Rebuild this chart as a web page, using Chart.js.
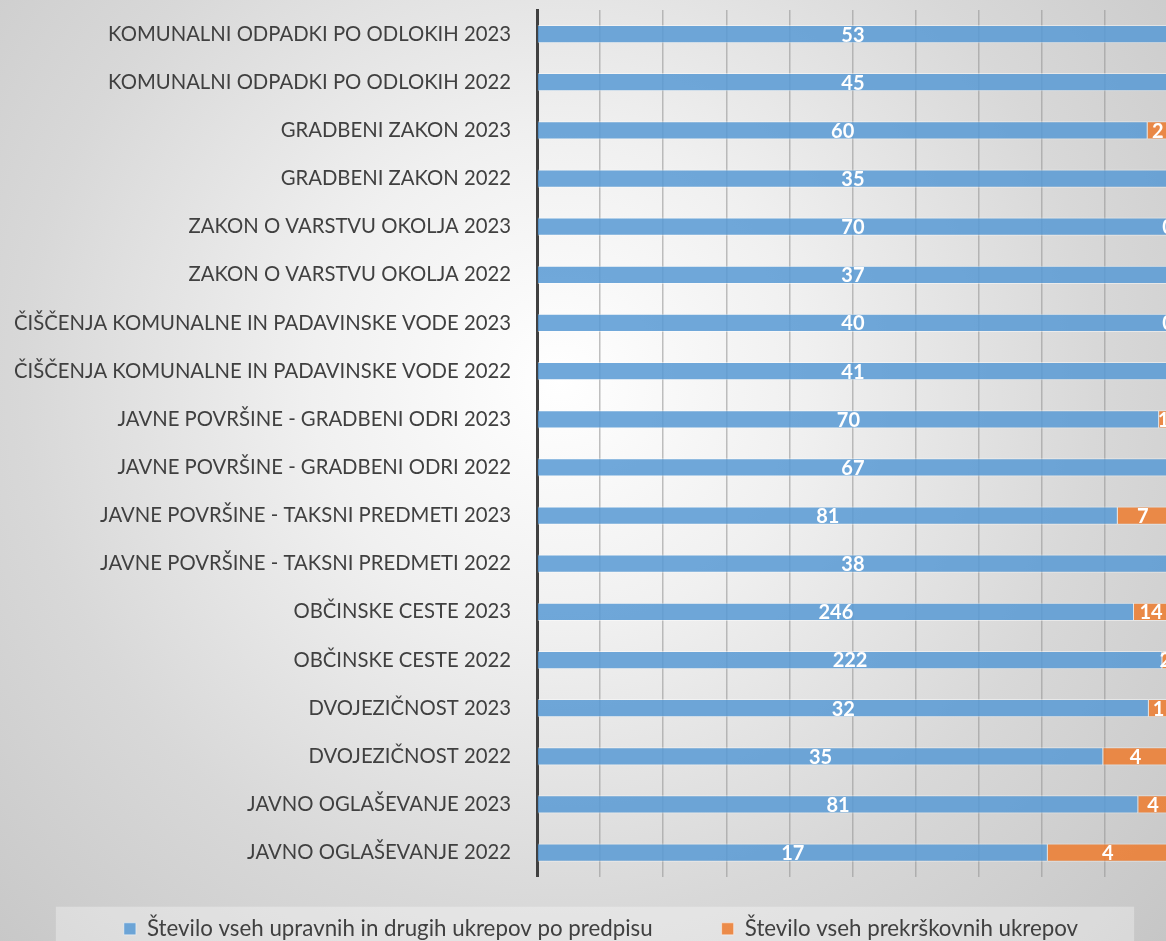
<!DOCTYPE html>
<html>
<head>
<meta charset="utf-8">
<script src="https://cdn.jsdelivr.net/npm/chart.js@4.4.1/dist/chart.umd.min.js"></script>
<style>
    html, body {
        margin: 0;
        padding: 0;
        width: 1166px;
        height: 941px;
        overflow: hidden;
        background: radial-gradient(circle at 560px 380px, #ffffff 0%, #f0f0f0 30%, #d8d8d8 65%, #c6c6c6 100%);
        font-family: Lato, "Open Sans", sans-serif;
    }
    #wrap {
        position: absolute;
        left: 0;
        top: 0;
        width: 1200px;
        height: 978px;
    }
</style>
</head>
<body>
<div id="wrap"><canvas id="ukrepiChart"></canvas></div>
<script>
// Categories top to bottom
const categories = [
    'KOMUNALNI ODPADKI PO ODLOKIH 2023',
    'KOMUNALNI ODPADKI PO ODLOKIH 2022',
    'GRADBENI ZAKON 2023',
    'GRADBENI ZAKON 2022',
    'ZAKON O VARSTVU OKOLJA 2023',
    'ZAKON O VARSTVU OKOLJA 2022',
    'ČIŠČENJA KOMUNALNE IN PADAVINSKE VODE 2023',
    'ČIŠČENJA KOMUNALNE IN PADAVINSKE VODE 2022',
    'JAVNE POVRŠINE - GRADBENI ODRI 2023',
    'JAVNE POVRŠINE - GRADBENI ODRI 2022',
    'JAVNE POVRŠINE - TAKSNI PREDMETI 2023',
    'JAVNE POVRŠINE - TAKSNI PREDMETI 2022',
    'OBČINSKE CESTE 2023',
    'OBČINSKE CESTE 2022',
    'DVOJEZIČNOST 2023',
    'DVOJEZIČNOST 2022',
    'JAVNO OGLAŠEVANJE 2023',
    'JAVNO OGLAŠEVANJE 2022'
];

const upravniUkrepi = [53, 45, 60, 35, 70, 37, 40, 41, 70, 67, 81, 38, 246, 222, 32, 35, 81, 17];
const prekrskovniUkrepi = [null, null, 2, null, 0, null, 0, null, 1, null, 7, null, 14, 2, 1, 4, 4, 4];

const seriesNames = [
    'Število vseh upravnih in drugih ukrepov po predpisu',
    'Število vseh prekrškovnih ukrepov'
];

const xTicks = [0, 10, 20, 30, 40, 50, 60, 70, 80, 90, 100];

// 100% stacked: convert counts to shares
function toPercent(values, other) {
    return values.map((v, i) => {
        if (v === null) return null;
        const total = v + (other[i] || 0);
        return total ? v / total * 100 : 0;
    });
}

const rawValues = [upravniUkrepi, prekrskovniUkrepi];

// Draws the count in the middle of each segment
const segmentLabels = {
    id: 'segmentLabels',
    afterDatasetsDraw(chart) {
        const ctx = chart.ctx;
        ctx.save();
        ctx.font = 'bold 20px Lato, sans-serif';
        ctx.fillStyle = '#ffffff';
        ctx.textAlign = 'center';
        ctx.textBaseline = 'middle';
        chart.data.datasets.forEach((ds, di) => {
            const meta = chart.getDatasetMeta(di);
            meta.data.forEach((bar, i) => {
                const raw = rawValues[di][i];
                if (raw === null || raw === undefined) return;
                ctx.fillText(String(raw), (bar.x + bar.base) / 2, bar.y + 1);
            });
        });
        ctx.restore();
    }
};

// Legend sits a bit higher and more to the right than Chart.js would put it,
// plus a light box behind it
const legendBox = {
    id: 'legendBox',
    afterLayout(chart) {
        const lg = chart.legend;
        if (!lg) return;
        lg.left = 34;
        lg.width = lg.right - lg.left;
        lg.top -= 28;
        lg.bottom -= 28;
    },
    beforeDraw(chart) {
        const lg = chart.legend;
        if (!lg || !lg.legendHitBoxes.length) return;
        const first = lg.legendHitBoxes[0];
        const last = lg.legendHitBoxes[lg.legendHitBoxes.length - 1];
        const ctx = chart.ctx;
        ctx.save();
        ctx.fillStyle = 'rgba(255, 255, 255, 0.32)';
        const x0 = first.left - 68;
        const x1 = last.left + last.width + 56;
        ctx.fillRect(x0, first.top - 11, x1 - x0, chart.height);
        ctx.restore();
    }
};

const ctx = document.getElementById('ukrepiChart');
new Chart(ctx, {
    type: 'bar',
    data: {
        labels: categories,
        datasets: [
            {
                label: seriesNames[0],
                data: toPercent(upravniUkrepi, prekrskovniUkrepi),
                backgroundColor: 'rgba(91, 155, 213, 0.87)',
                borderColor: 'rgba(255, 255, 255, 0.45)',
                borderWidth: 1,
                categoryPercentage: 1,
                barPercentage: 0.38
            },
            {
                label: seriesNames[1],
                data: toPercent(prekrskovniUkrepi, upravniUkrepi),
                backgroundColor: 'rgba(237, 125, 49, 0.87)',
                borderColor: 'rgba(255, 255, 255, 0.45)',
                borderWidth: 1,
                categoryPercentage: 1,
                barPercentage: 0.38
            }
        ]
    },
    options: {
        indexAxis: 'y',
        responsive: true,
        maintainAspectRatio: false,
        animation: false,
        layout: {
            padding: { left: 0, right: 32, top: 10, bottom: 0 }
        },
        plugins: {
            legend: {
                position: 'bottom',
                labels: {
                    boxWidth: 12,
                    boxHeight: 12,
                    padding: 69,
                    color: '#404040',
                    font: { family: 'Lato, sans-serif', size: 22.3 }
                }
            },
            tooltip: { enabled: false }
        },
        scales: {
            x: {
                stacked: true,
                min: 0,
                max: 100,
                afterBuildTicks(scale) {
                    scale.ticks = xTicks.map(v => ({ value: v }));
                },
                ticks: { display: false },
                grid: {
                    color: 'rgba(150, 150, 150, 0.6)',
                    lineWidth: 1.5,
                    drawTicks: false
                },
                border: { display: false }
            },
            y: {
                stacked: true,
                afterFit(scale) {
                    scale.width = 537;
                    scale.paddingTop = 0;
                    scale.paddingBottom = 0;
                },
                ticks: {
                    color: '#404040',
                    padding: 26,
                    font: { family: 'Lato, sans-serif', size: 20.3 }
                },
                grid: { display: false, drawTicks: false },
                border: { color: '#404040', width: 3 }
            }
        }
    },
    plugins: [legendBox, segmentLabels]
});
</script>
</body>
</html>
